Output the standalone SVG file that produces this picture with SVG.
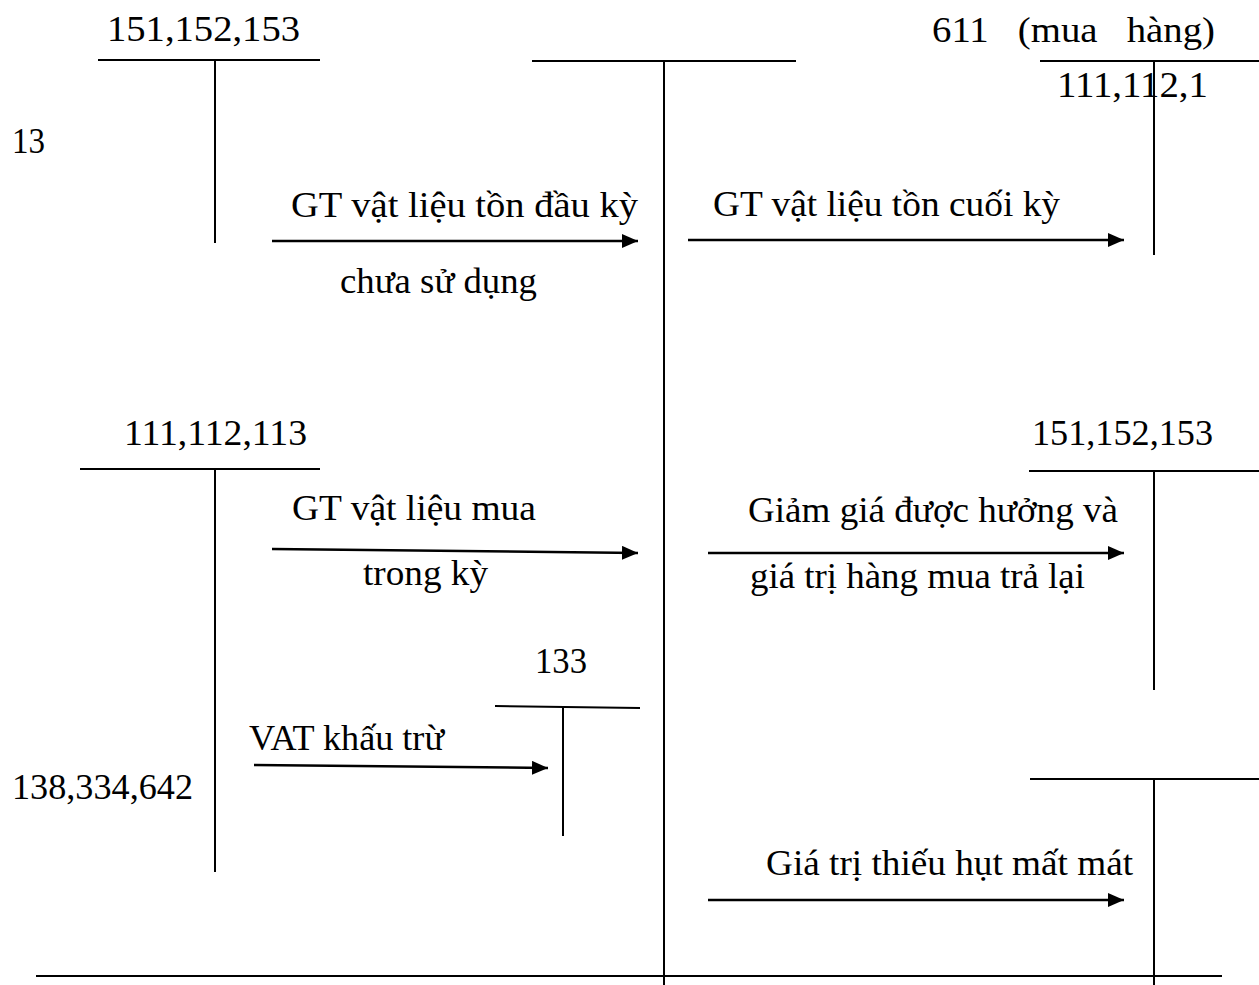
<svg xmlns="http://www.w3.org/2000/svg" width="1259" height="985" viewBox="0 0 1259 985">
  <defs>
    <marker id="arrow" viewBox="0 0 16 14" refX="16" refY="7" markerWidth="16" markerHeight="14" markerUnits="userSpaceOnUse" orient="auto">
      <path d="M0,0 L16,7 L0,14 Z" fill="#000"/>
    </marker>
  </defs>
  <style>
    .t { font-family: "Liberation Serif", "Times New Roman", serif; font-size: 35px; fill: #000; }
    .ln { stroke: #000; stroke-width: 2; fill: none; }
    .ar { stroke: #000; stroke-width: 2.5; fill: none; marker-end: url(#arrow); }
  </style>
  <rect width="1259" height="985" fill="#fff"/>

  <!-- T-account 151,152,153 (opening) -->
  <g id="acc-151-top">
    <line class="ln" x1="98" y1="60" x2="320" y2="60"/>
    <line class="ln" x1="215" y1="60" x2="215" y2="243"/>
    <text class="t" x="107" y="41" textLength="193" lengthAdjust="spacingAndGlyphs">151,152,153</text>
  </g>

  <!-- T-account 611 (purchases) -->
  <g id="acc-611">
    <line class="ln" x1="532" y1="61" x2="796" y2="61"/>
    <line class="ln" x1="664" y1="61" x2="664" y2="985"/>
    <text class="t" x="932" y="42" textLength="283" lengthAdjust="spacingAndGlyphs" xml:space="preserve">611   (mua   hàng)</text>
  </g>

  <!-- T-account 111,112,1.. (top right) -->
  <g id="acc-111-top">
    <line class="ln" x1="1040" y1="61" x2="1259" y2="61"/>
    <line class="ln" x1="1154" y1="61" x2="1154" y2="255"/>
    <text class="t" x="1057" y="97" textLength="151" lengthAdjust="spacingAndGlyphs">111,112,1</text>
    <text class="t" x="12" y="153" textLength="33" lengthAdjust="spacingAndGlyphs">13</text>
  </g>

  <!-- T-account 111,112,113 -->
  <g id="acc-111">
    <line class="ln" x1="80" y1="469" x2="320" y2="469"/>
    <line class="ln" x1="215" y1="469" x2="215" y2="872"/>
    <text class="t" x="124" y="445" textLength="183" lengthAdjust="spacingAndGlyphs">111,112,113</text>
  </g>

  <!-- T-account 151,152,153 (returns) -->
  <g id="acc-151-right">
    <line class="ln" x1="1029" y1="471" x2="1259" y2="471"/>
    <line class="ln" x1="1154" y1="471" x2="1154" y2="690"/>
    <text class="t" x="1032" y="445" textLength="181" lengthAdjust="spacingAndGlyphs">151,152,153</text>
  </g>

  <!-- T-account 133 -->
  <g id="acc-133">
    <line class="ln" x1="495" y1="706" x2="640" y2="708"/>
    <line class="ln" x1="563" y1="706" x2="563" y2="836"/>
    <text class="t" x="535" y="673" textLength="52" lengthAdjust="spacingAndGlyphs">133</text>
  </g>

  <!-- T-account 138,334,642 -->
  <g id="acc-138">
    <line class="ln" x1="1030" y1="779" x2="1259" y2="779"/>
    <line class="ln" x1="1154" y1="779" x2="1154" y2="985"/>
    <text class="t" x="12" y="799" textLength="181" lengthAdjust="spacingAndGlyphs">138,334,642</text>
  </g>

  <!-- bottom rule -->
  <line class="ln" x1="36" y1="976" x2="1222" y2="976" stroke-width="3"/>

  <!-- connectors -->
  <g id="connectors">
    <line class="ar" x1="272" y1="241" x2="638" y2="241"/>
    <line class="ar" x1="688" y1="240" x2="1124" y2="240"/>
    <line class="ar" x1="272" y1="549" x2="638" y2="553"/>
    <line class="ar" x1="708" y1="553" x2="1124" y2="553"/>
    <line class="ar" x1="254" y1="765" x2="548" y2="768"/>
    <line class="ar" x1="708" y1="900" x2="1124" y2="900"/>
  </g>

  <!-- connector labels -->
  <g id="labels">
    <text class="t" x="291" y="217" textLength="347" lengthAdjust="spacingAndGlyphs">GT vật liệu tồn đầu kỳ</text>
    <text class="t" x="340" y="293" textLength="197" lengthAdjust="spacingAndGlyphs">chưa sử dụng</text>
    <text class="t" x="713" y="216" textLength="347" lengthAdjust="spacingAndGlyphs">GT vật liệu tồn cuối kỳ</text>
    <text class="t" x="292" y="520" textLength="244" lengthAdjust="spacingAndGlyphs">GT vật liệu mua</text>
    <text class="t" x="363" y="585" textLength="125" lengthAdjust="spacingAndGlyphs">trong kỳ</text>
    <text class="t" x="748" y="522" textLength="370" lengthAdjust="spacingAndGlyphs">Giảm giá được hưởng và</text>
    <text class="t" x="750" y="588" textLength="335" lengthAdjust="spacingAndGlyphs">giá trị hàng mua trả lại</text>
    <text class="t" x="249" y="750" textLength="195" lengthAdjust="spacingAndGlyphs">VAT khấu trừ</text>
    <text class="t" x="766" y="875" textLength="367" lengthAdjust="spacingAndGlyphs">Giá trị thiếu hụt mất mát</text>
  </g>
</svg>
